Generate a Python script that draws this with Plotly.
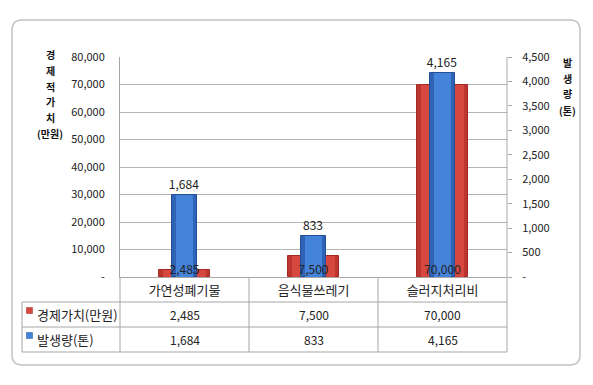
import plotly.graph_objects as go

categories = ["가연성폐기물", "음식물쓰레기", "슬러지처리비"]
econ_values = [2485, 7500, 70000]          # 경제가치(만원)
amount_values = [1684, 833, 4165]          # 발생량(톤)
series_names = ["경제가치(만원)", "발생량(톤)"]
left_ticks = [0, 10000, 20000, 30000, 40000, 50000, 60000, 70000, 80000]
right_ticks = [0, 500, 1000, 1500, 2000, 2500, 3000, 3500, 4000, 4500]
left_title = ["경", "제", "적", "가", "치", "(만원)"]
right_title = ["발", "생", "량", "(톤)"]

W, H = 593, 385
FONT = "Noto Sans CJK KR"
TXT = "#222222"
GRID = "#B4B4B4"
RED_EDGE = "#A42824"
RED_OUT = "#BC352F"
RED_IN = "#D6483F"
BLUE_EDGE = "#234F96"
BLUE_OUT = "#2F63B6"
BLUE_IN = "#4383DA"
LEFT_MAX = 80000
RIGHT_MAX = 4500


def fx(x):
    return x / W


def fy(y):
    return 1 - y / H


def fmt(v):
    return "-" if v == 0 else f"{v:,}"


PL, PR, PT, PB = 120, 507, 57, 277

fig = go.Figure()
# 경제가치 bars (outer + lighter inner band for the bevel look)
fig.add_trace(go.Bar(
    x=categories, y=econ_values, name=series_names[0], width=0.40,
    marker=dict(color=RED_OUT, line=dict(color=RED_EDGE, width=1)),
    yaxis="y", showlegend=False, hoverinfo="skip"))
fig.add_trace(go.Bar(
    x=categories, y=econ_values, name=series_names[0], width=0.33,
    marker=dict(color=RED_IN, line=dict(width=0)),
    yaxis="y", showlegend=False, hoverinfo="skip"))
# 발생량 bars
fig.add_trace(go.Bar(
    x=categories, y=amount_values, name=series_names[1], width=0.19,
    marker=dict(color=BLUE_OUT, line=dict(color=BLUE_EDGE, width=1)),
    yaxis="y2", text=[fmt(v) for v in amount_values], textposition="outside",
    constraintext="none",
    textfont=dict(family=FONT, size=12, color=TXT), cliponaxis=False,
    showlegend=False, hoverinfo="skip"))
fig.add_trace(go.Bar(
    x=categories, y=amount_values, name=series_names[1], width=0.13,
    marker=dict(color=BLUE_IN, line=dict(width=0)),
    yaxis="y2", showlegend=False, hoverinfo="skip"))
# red labels at the bar base, drawn on top of the blue bars (same subplot layer)
fig.add_trace(go.Scatter(
    x=categories, y=[0] * len(categories), mode="text",
    text=[fmt(v) for v in econ_values], textposition="top center",
    textfont=dict(family=FONT, size=12, color=TXT), yaxis="y2",
    showlegend=False, hoverinfo="skip", cliponaxis=False))

shapes = []
annotations = []

# outer rounded border
x0, y0, x1, y1, r = 12, 20, 580, 365, 10
path = (f"M {fx(x0+r)} {fy(y0)} L {fx(x1-r)} {fy(y0)} Q {fx(x1)} {fy(y0)} {fx(x1)} {fy(y0+r)} "
        f"L {fx(x1)} {fy(y1-r)} Q {fx(x1)} {fy(y1)} {fx(x1-r)} {fy(y1)} "
        f"L {fx(x0+r)} {fy(y1)} Q {fx(x0)} {fy(y1)} {fx(x0)} {fy(y1-r)} "
        f"L {fx(x0)} {fy(y0+r)} Q {fx(x0)} {fy(y0)} {fx(x0+r)} {fy(y0)} Z")
shapes.append(dict(type="path", path=path, xref="paper", yref="paper",
                   line=dict(color="#C4C4C4", width=1.5), layer="below"))

# data table grid
TL = 22
row_lines = [302, 327, 352]
for yy in row_lines:
    shapes.append(dict(type="line", xref="paper", yref="paper", x0=fx(TL), x1=fx(PR),
                       y0=fy(yy), y1=fy(yy), line=dict(color="#A6A6A6", width=1)))
shapes.append(dict(type="line", xref="paper", yref="paper", x0=fx(TL), x1=fx(TL),
                   y0=fy(302), y1=fy(352), line=dict(color="#A6A6A6", width=1)))
ncat = len(categories)
cw = (PR - PL) / ncat
for i in range(ncat + 1):
    xx = PL + i * cw
    shapes.append(dict(type="line", xref="paper", yref="paper", x0=fx(xx), x1=fx(xx),
                       y0=fy(PB), y1=fy(352), line=dict(color="#A6A6A6", width=1)))
shapes.append(dict(type="line", xref="paper", yref="paper", x0=fx(PR), x1=fx(PR),
                   y0=fy(PT), y1=fy(PB), line=dict(color="#A6A6A6", width=1)))

# table rows
row_centers = [314.5, 339.5]
row_values = [econ_values, amount_values]
row_colors = [(RED_IN, RED_EDGE), (BLUE_IN, BLUE_EDGE)]
for name, vals, (c, ce), yc in zip(series_names, row_values, row_colors, row_centers):
    shapes.append(dict(type="rect", xref="paper", yref="paper",
                       x0=fx(26.5), x1=fx(32.5), y0=fy(yc - 7), y1=fy(yc - 1),
                       fillcolor=c, line=dict(color=ce, width=0.5)))
    annotations.append(dict(x=fx(35), y=fy(yc), xref="paper", yref="paper", text=name,
                            showarrow=False, xanchor="left", yanchor="middle",
                            font=dict(family=FONT, size=13, color=TXT)))
    for i, v in enumerate(vals):
        annotations.append(dict(x=fx(PL + (i + 0.5) * cw), y=fy(yc), xref="paper", yref="paper",
                                text=fmt(v), showarrow=False, xanchor="center", yanchor="middle",
                                font=dict(family=FONT, size=12, color=TXT)))

# vertical stacked axis titles
for i, ch in enumerate(left_title):
    annotations.append(dict(x=fx(50), y=fy(55 + i * 15.6), xref="paper", yref="paper",
                            text=f"<b>{ch}</b>", showarrow=False, xanchor="center",
                            yanchor="middle", font=dict(family=FONT, size=10, color="#111")))
for i, ch in enumerate(right_title):
    annotations.append(dict(x=fx(567), y=fy(62 + i * 16), xref="paper", yref="paper",
                            text=f"<b>{ch}</b>", showarrow=False, xanchor="center",
                            yanchor="middle", font=dict(family=FONT, size=10, color="#111")))

fig.update_layout(
    width=W, height=H, margin=dict(l=0, r=0, t=0, b=0, pad=0, autoexpand=False),
    paper_bgcolor="white", plot_bgcolor="white",
    barmode="overlay", bargap=0,
    font=dict(family=FONT, color=TXT),
    xaxis=dict(domain=[fx(PL), fx(PR)], type="category", showgrid=False,
               showline=True, linecolor="#A6A6A6", linewidth=1, ticks="",
               tickfont=dict(family=FONT, size=13, color=TXT), ticklabelstandoff=1,
               fixedrange=True, automargin=False),
    yaxis=dict(domain=[fy(PB), fy(PT)], range=[0, LEFT_MAX], tickvals=left_ticks,
               ticktext=[fmt(v) for v in left_ticks], showgrid=True, gridcolor=GRID,
               gridwidth=1, showline=True, linecolor="#A6A6A6", linewidth=1,
               zeroline=False, ticks="", ticklabelstandoff=12, automargin=False,
               tickfont=dict(family=FONT, size=11, color=TXT)),
    yaxis2=dict(overlaying="y", side="right", anchor="x", range=[0, RIGHT_MAX],
                tickvals=right_ticks, ticktext=[fmt(v) for v in right_ticks],
                showgrid=False, showline=False, zeroline=False, ticks="outside",
                ticklen=4, tickcolor="#A6A6A6", ticklabelstandoff=8, automargin=False,
                tickfont=dict(family=FONT, size=11, color=TXT)),
    shapes=shapes, annotations=annotations,
)

fig.write_html("out.html", config={"displayModeBar": False},
               post_script="document.body.style.margin='0';document.body.style.overflow='hidden';")
